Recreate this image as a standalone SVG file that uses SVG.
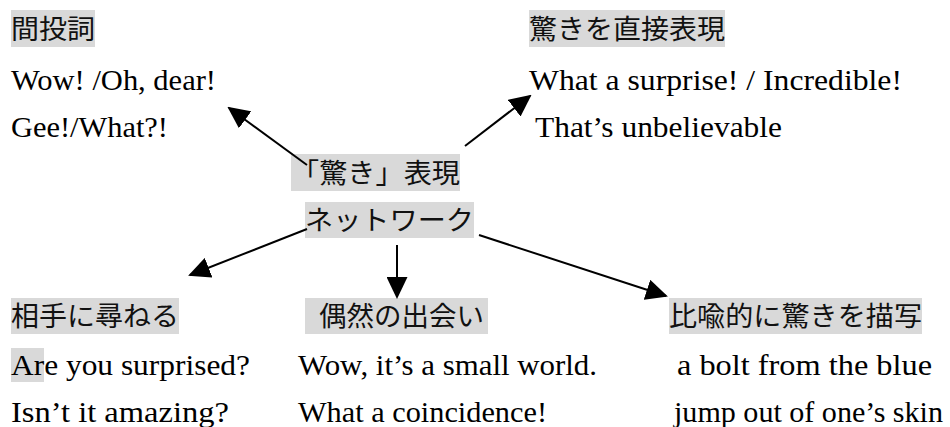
<svg xmlns="http://www.w3.org/2000/svg" width="950" height="427" viewBox="0 0 950 427">
<style>
.bg{fill:#d9d9d9}
.jp{font-family:"Noto Sans CJK JP","Noto Sans CJK SC",sans-serif;font-size:27px;fill:#111}
.en{font-family:"Liberation Serif",serif;font-size:30px;fill:#000}
.conn{stroke:#000;stroke-width:2;fill:none;marker-end:url(#ah)}
</style>
<defs>
<marker id="ah" markerUnits="userSpaceOnUse" markerWidth="22" markerHeight="21" viewBox="0 0 22 21" refX="20" refY="10.5" orient="auto">
<path d="M0,0 L22,10.5 L0,21 Z" fill="#000"/>
</marker>
</defs>
<rect width="950" height="427" fill="#fff"/>

<g id="center">
<rect class="bg" x="291" y="154" width="169" height="37"/>
<text class="jp" x="291" y="183" textLength="169" lengthAdjust="spacingAndGlyphs">「驚き」表現</text>
<rect class="bg" x="305" y="202" width="169" height="36"/>
<text class="jp" x="305" y="230" textLength="169" lengthAdjust="spacingAndGlyphs">ネットワーク</text>
</g>

<g id="interjection">
<rect class="bg" x="11" y="10" width="84" height="37"/>
<text class="jp" x="11" y="39" textLength="84" lengthAdjust="spacingAndGlyphs">間投詞</text>
<text class="en" x="11" y="90" textLength="205" lengthAdjust="spacingAndGlyphs">Wow! /Oh, dear!</text>
<text class="en" x="11" y="137" textLength="157" lengthAdjust="spacingAndGlyphs">Gee!/What?!</text>
</g>

<g id="direct">
<rect class="bg" x="529" y="10" width="196" height="37"/>
<text class="jp" x="529" y="39" textLength="196" lengthAdjust="spacingAndGlyphs">驚きを直接表現</text>
<text class="en" x="529" y="90" textLength="373" lengthAdjust="spacingAndGlyphs">What a surprise! / Incredible!</text>
<text class="en" x="535" y="137" textLength="247" lengthAdjust="spacingAndGlyphs">That’s unbelievable</text>
</g>

<g id="ask">
<rect class="bg" x="11" y="298" width="168" height="36"/>
<text class="jp" x="11" y="326" textLength="168" lengthAdjust="spacingAndGlyphs">相手に尋ねる</text>
<rect class="bg" x="11" y="348" width="33" height="34"/>
<text class="en" x="11" y="375" textLength="239" lengthAdjust="spacingAndGlyphs">Are you surprised?</text>
<text class="en" x="11" y="422" textLength="218" lengthAdjust="spacingAndGlyphs">Isn’t it amazing?</text>
</g>

<g id="coincidence">
<rect class="bg" x="305" y="298" width="183" height="36"/>
<text class="jp" x="319" y="326" textLength="165" lengthAdjust="spacingAndGlyphs">偶然の出会い</text>
<text class="en" x="298" y="375" textLength="299" lengthAdjust="spacingAndGlyphs">Wow, it’s a small world.</text>
<text class="en" x="298" y="422" textLength="249" lengthAdjust="spacingAndGlyphs">What a coincidence!</text>
</g>

<g id="metaphor">
<rect class="bg" x="669" y="298" width="253" height="36"/>
<text class="jp" x="669" y="326" textLength="253" lengthAdjust="spacingAndGlyphs">比喩的に驚きを描写</text>
<text class="en" x="677" y="375" textLength="255" lengthAdjust="spacingAndGlyphs">a bolt from the blue</text>
<text class="en" x="674" y="422" textLength="269" lengthAdjust="spacingAndGlyphs">jump out of one’s skin</text>
</g>

<g id="connectors">
<line class="conn" x1="307" y1="165" x2="229" y2="108"/>
<line class="conn" x1="465" y1="146" x2="530" y2="96"/>
<line class="conn" x1="307" y1="229" x2="190" y2="275"/>
<line class="conn" x1="397" y1="245" x2="397" y2="297"/>
<line class="conn" x1="479" y1="235" x2="666" y2="296"/>
</g>
</svg>
